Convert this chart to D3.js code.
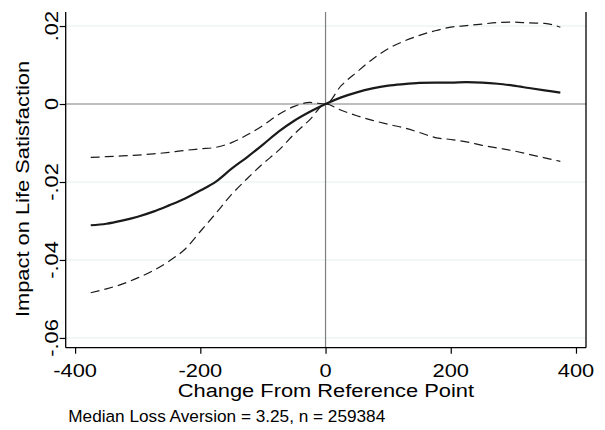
<!DOCTYPE html>
<html>
<head>
<meta charset="utf-8">
<script src="https://cdn.jsdelivr.net/npm/d3@7"></script>
<style>
  html, body { margin: 0; padding: 0; background: #fff; }
  svg { display: block; }
  text { font-family: "Liberation Sans", Arial, sans-serif; fill: #000; }
</style>
</head>
<body>
<svg id="chart" width="605" height="430"></svg>
<script>
// x: change from reference point
const xValues = [-375,-350,-325,-300,-275,-250,-225,-200,-175,-150,-125,-100,-75,-50,-25,0,
  25,50,75,100,125,150,175,200,225,250,275,300,325,350,375];
// point estimate
const estimate = [-0.0311,-0.0307,-0.0299,-0.0289,-0.0276,-0.0260,-0.0243,-0.0222,-0.0199,-0.0166,
  -0.0136,-0.0104,-0.0071,-0.0043,-0.0020,0.0000,
  0.0017,0.0030,0.0040,0.0047,0.0051,0.0054,0.0055,0.0055,0.0056,0.0055,0.0052,0.0047,0.0041,0.0035,0.0029];
// upper confidence bound
const upperCI = [-0.0137,-0.0135,-0.0133,-0.0131,-0.0128,-0.0124,-0.0119,-0.0115,-0.0111,-0.0099,
  -0.0079,-0.0055,-0.0027,-0.0006,0.0004,0.0000,
  0.0047,0.0082,0.0115,0.0142,0.0161,0.0176,0.0188,0.0197,0.0201,0.0205,0.0209,0.0210,0.0208,0.0207,0.0197];
// lower confidence bound
const lowerCI = [-0.0484,-0.0474,-0.0462,-0.0446,-0.0427,-0.0403,-0.0373,-0.0327,-0.0280,-0.0232,
  -0.0191,-0.0153,-0.0119,-0.0077,-0.0040,0.0000,
  -0.0016,-0.0030,-0.0042,-0.0052,-0.0061,-0.0073,-0.0086,-0.0091,-0.0097,-0.0106,-0.0113,-0.0120,-0.0129,-0.0138,-0.0147];

const xTicks = [-400,-200,0,200,400];
const xTickLabels = ["-400","-200","0","200","400"];
const yTicks = [0.02,0,-0.02,-0.04,-0.06];
const yTickLabels = [".02","0","-.02","-.04","-.06"];
const xTitle = "Change From Reference Point";
const yTitle = "Impact on Life Satisfaction";
const note = "Median Loss Aversion = 3.25, n = 259384";

const svg = d3.select("#chart");
const L = 65.7, R = 586, T = 12, B = 347.7;
const STRETCH = 1.15;

const x = d3.scaleLinear().domain([-415, 416]).range([L, R]);
const y = d3.scaleLinear().domain([-0.0625, 0.0236]).range([B, T]);

// gridlines
svg.append("g").selectAll("line").data(yTicks.filter(d => d !== 0)).join("line")
  .attr("x1", L).attr("x2", R)
  .attr("y1", d => y(d)).attr("y2", d => y(d))
  .attr("stroke", "#e4eeee").attr("stroke-width", 1);

// reference lines at zero
svg.append("line").attr("x1", L).attr("x2", R).attr("y1", y(0)).attr("y2", y(0))
  .attr("stroke", "#7f7f7f").attr("stroke-width", 1.2);
svg.append("line").attr("x1", x(0)).attr("x2", x(0)).attr("y1", T).attr("y2", B)
  .attr("stroke", "#7f7f7f").attr("stroke-width", 1.2);

// right border
svg.append("line").attr("x1", R).attr("x2", R).attr("y1", T).attr("y2", B)
  .attr("stroke", "#000").attr("stroke-width", 1.3);

// axes
const yAxis = d3.axisLeft(y).tickValues(yTicks).tickSize(6).tickFormat("");
const gy = svg.append("g").attr("transform", `translate(${L},0)`).call(yAxis);
gy.select(".domain").attr("d", `M0,${T}V${B}`).attr("stroke", "#000").attr("stroke-width", 1.3);
gy.selectAll(".tick line").attr("stroke", "#000").attr("stroke-width", 1.2);

const xAxis = d3.axisBottom(x).tickValues(xTicks).tickSize(6).tickFormat("");
const gx = svg.append("g").attr("transform", `translate(0,${B})`).call(xAxis);
gx.select(".domain").attr("d", `M${L},0H${R}`).attr("stroke", "#000").attr("stroke-width", 1.3);
gx.selectAll(".tick line").attr("stroke", "#000").attr("stroke-width", 1.2);

// tick labels
svg.append("g").selectAll("text").data(xTicks).join("text")
  .attr("transform", d => `translate(${x(d)},377.3) scale(${STRETCH},1)`)
  .attr("text-anchor", "middle").attr("font-size", 19)
  .text((d, i) => xTickLabels[i]);

svg.append("g").selectAll("text").data(yTicks).join("text")
  .attr("transform", d => `translate(57.8,${y(d)}) rotate(-90) scale(${STRETCH},1)`)
  .attr("text-anchor", "middle").attr("font-size", 19)
  .text((d, i) => yTickLabels[i]);

// axis titles
svg.append("text").attr("transform", `translate(${(L + R) / 2},396.7) scale(${STRETCH},1)`)
  .attr("text-anchor", "middle").attr("font-size", 19).text(xTitle);
svg.append("text").attr("transform", `translate(29.3,189) rotate(-90) scale(${STRETCH},1)`)
  .attr("text-anchor", "middle").attr("font-size", 19).text(yTitle);

// note
svg.append("text").attr("x", 68.3).attr("y", 421.7).attr("font-size", 17.2).text(note);

// lines
const line = d3.line().x((d, i) => x(xValues[i])).y(d => y(d)).curve(d3.curveMonotoneX);

svg.append("path").datum(upperCI).attr("d", line)
  .attr("fill", "none").attr("stroke", "#1a1a1a").attr("stroke-width", 1.2)
  .attr("stroke-dasharray", "9,5");
svg.append("path").datum(lowerCI).attr("d", line)
  .attr("fill", "none").attr("stroke", "#1a1a1a").attr("stroke-width", 1.2)
  .attr("stroke-dasharray", "9,5");
svg.append("path").datum(estimate).attr("d", line)
  .attr("fill", "none").attr("stroke", "#1a1a1a").attr("stroke-width", 2.2);
</script>
</body>
</html>
